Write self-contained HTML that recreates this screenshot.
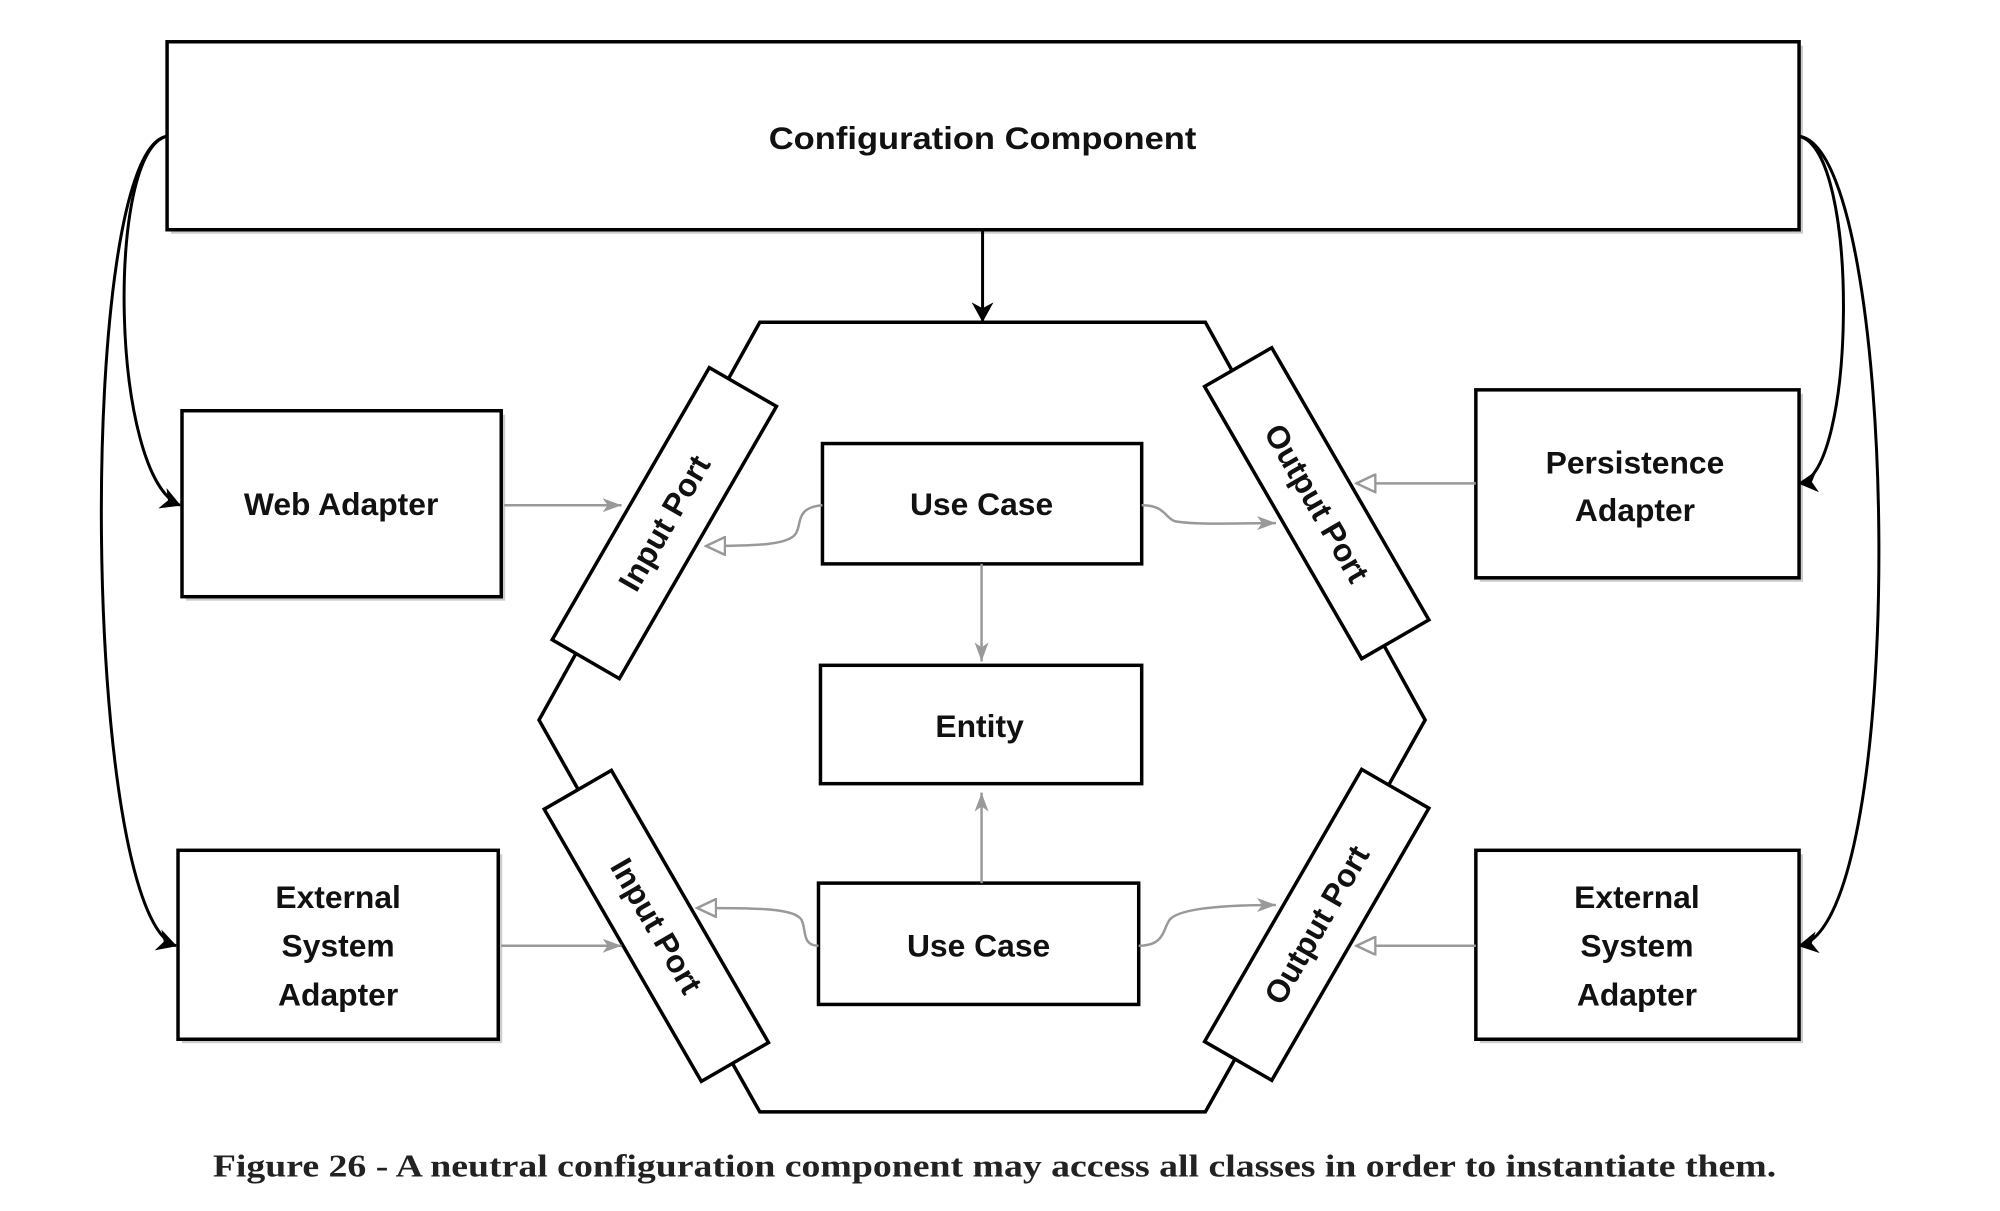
<!DOCTYPE html>
<html><head><meta charset="utf-8"><style>
html,body{margin:0;padding:0;background:#fff;}
svg{display:block;}
text{font-family:"Liberation Sans",sans-serif;font-weight:bold;fill:#111;}
</style></head><body>
<svg width="2000" height="1211" viewBox="0 0 2000 1211" xmlns="http://www.w3.org/2000/svg">
<defs>
<marker id="blkD" markerWidth="20" markerHeight="22" refX="19" refY="11" orient="auto" markerUnits="userSpaceOnUse"><path d="M0,0 L20,11 L0,22 L6,11 z" fill="#000"/></marker>
<marker id="gf" markerWidth="20" markerHeight="16" refX="19" refY="8" orient="auto" markerUnits="userSpaceOnUse"><path d="M0,1 L19,8 L0,15 L5,8 z" fill="#999"/></marker>
<marker id="gh" markerWidth="22" markerHeight="20" refX="20" refY="10" orient="auto" markerUnits="userSpaceOnUse"><path d="M1,1 L20,10 L1,19 z" fill="#fff" stroke="#999" stroke-width="2.5"/></marker>
</defs>
<g transform="translate(1,0) scale(0.9945)">
<g fill="#fff" stroke="#000" stroke-width="3.5">
<g stroke="none" fill="#ccc">
<rect x="171" y="46" width="1641" height="189"/>
<rect x="186" y="417" width="321" height="187"/>
<rect x="1487" y="396" width="325" height="189"/>
<rect x="182" y="859" width="322" height="190"/>
<rect x="1487" y="859" width="325" height="190"/>
</g>
<rect x="167" y="42" width="1641" height="189"/>
<polygon points="763,324 1211,324 1432,724 1211,1118 763,1118 541,724"/>
<rect x="182" y="413" width="321" height="187"/>
<rect x="1483" y="392" width="325" height="189"/>
<rect x="178" y="855" width="322" height="190"/>
<rect x="1483" y="855" width="325" height="190"/>
<rect x="826" y="446" width="321" height="121"/>
<rect x="824" y="669" width="323" height="119"/>
<rect x="822" y="888" width="322" height="122"/>
<rect x="-158" y="-39" width="316" height="78" transform="translate(667,526) rotate(-60)"/>
<rect x="-158" y="-39" width="316" height="78" transform="translate(1323,506) rotate(60)"/>
<rect x="-158" y="-39" width="316" height="78" transform="translate(659,931) rotate(60)"/>
<rect x="-158" y="-39" width="316" height="78" transform="translate(1323,930) rotate(-60)"/>
</g>
<g fill="none" stroke="#000" stroke-width="3">
<line x1="987" y1="231" x2="987" y2="323" marker-end="url(#blkD)"/>
<path d="M167,137 C105,150 110,480 180,508" marker-end="url(#blkD)"/>
<path d="M167,137 C75,150 80,920 176,951" marker-end="url(#blkD)"/>
<path d="M1808,137 C1870,150 1865,480 1808,486" marker-end="url(#blkD)"/>
<path d="M1808,137 C1910,150 1920,930 1808,951" marker-end="url(#blkD)"/>
</g>
<g fill="none" stroke="#999" stroke-width="2.5">
<line x1="506" y1="508" x2="624" y2="508" marker-end="url(#gf)"/>
<line x1="503" y1="951" x2="624" y2="951" marker-end="url(#gf)"/>
<line x1="1483" y1="486" x2="1363" y2="486" marker-end="url(#gh)"/>
<line x1="1483" y1="951" x2="1363" y2="951" marker-end="url(#gh)"/>
<path d="M826,508 C800,510 805,525 800,535 C795,548 760,549 709,549" marker-end="url(#gh)"/>
<path d="M1147,508 C1170,508 1170,520 1180,524 C1200,528 1240,526 1282,526" marker-end="url(#gf)"/>
<path d="M822,951 C805,951 810,935 805,925 C798,913 760,913 700,913" marker-end="url(#gh)"/>
<path d="M1144,951 C1170,951 1168,935 1175,925 C1185,912 1240,910 1282,910" marker-end="url(#gf)"/>
<line x1="986" y1="567" x2="986" y2="665" marker-end="url(#gf)"/>
<line x1="986" y1="888" x2="986" y2="797" marker-end="url(#gf)"/>
</g>
<g font-size="32" text-anchor="middle">
<text x="987" y="150" textLength="430" lengthAdjust="spacingAndGlyphs">Configuration Component</text>
<text x="342" y="518">Web Adapter</text>
<text x="1643" y="476">Persistence</text>
<text x="1643" y="524">Adapter</text>
<text x="339" y="913">External</text>
<text x="339" y="962">System</text>
<text x="339" y="1011">Adapter</text>
<text x="1645" y="913">External</text>
<text x="1645" y="962">System</text>
<text x="1645" y="1011">Adapter</text>
<text x="986" y="518">Use Case</text>
<text x="984" y="741">Entity</text>
<text x="983" y="962">Use Case</text>
<text transform="translate(667,526) rotate(-60)" y="11">Input Port</text>
<text transform="translate(1323,506) rotate(60)" y="11">Output Port</text>
<text transform="translate(659,931) rotate(60)" y="11">Input Port</text>
<text transform="translate(1323,930) rotate(-60)" y="11">Output Port</text>
</g>
<text x="213" y="1183" font-size="32" textLength="1572" lengthAdjust="spacingAndGlyphs" style="font-family:'Liberation Serif',serif;font-weight:bold;fill:#222;">Figure 26 - A neutral configuration component may access all classes in order to instantiate them.</text>
</g>
</svg>
</body></html>
